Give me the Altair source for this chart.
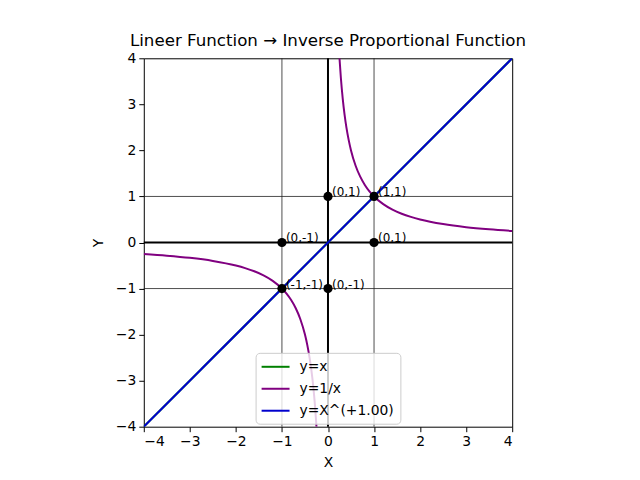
import altair as alt
import pandas as pd

# --- data ---
series_names = ["y=x", "y=1/x", "y=X^(+1.00)"]
series_colors = ["#008000", "#800080", "#0000CD"]

lin_x = [-4, 4]
lin_y = [-4, 4]

inv_pos_x = [0.25, 0.28, 0.32, 0.36, 0.4, 0.45, 0.5, 0.6, 0.7, 0.8, 0.9, 1.0, 1.2, 1.4, 1.6, 1.8, 2.0, 2.5, 3.0, 3.5, 4.0]
inv_pos_y = [4.0, 3.571, 3.125, 2.778, 2.5, 2.222, 2.0, 1.667, 1.429, 1.25, 1.111, 1.0, 0.833, 0.714, 0.625, 0.556, 0.5, 0.4, 0.333, 0.286, 0.25]
inv_neg_x = [-4.0, -3.5, -3.0, -2.5, -2.0, -1.8, -1.6, -1.4, -1.2, -1.0, -0.9, -0.8, -0.7, -0.6, -0.5, -0.45, -0.4, -0.36, -0.32, -0.28, -0.25]
inv_neg_y = [-0.25, -0.286, -0.333, -0.4, -0.5, -0.556, -0.625, -0.714, -0.833, -1.0, -1.111, -1.25, -1.429, -1.667, -2.0, -2.222, -2.5, -2.778, -3.125, -3.571, -4.0]

pt_x = [0, 1, -1, 1, -1, 0]
pt_y = [1, 1, 0, 0, -1, -1]
pt_labels = ["(0,1)", "(1,1)", "(0,-1)", "(0,1)", "(-1,-1)", "(0,-1)"]

grid_vals = [-1, 1]
zero_vals = [0]
ticks = [-4, -3, -2, -1, 0, 1, 2, 3, 4]

FONT = "DejaVu Sans"

xs = alt.Scale(domain=[-4, 4], nice=False, zero=False)
ys = alt.Scale(domain=[-4, 4], nice=False, zero=False)
cscale = alt.Scale(domain=series_names, range=series_colors)

lin_df = pd.DataFrame({"x": lin_x, "y": lin_y})
inv_df = pd.DataFrame({
    "x": inv_neg_x + inv_pos_x,
    "y": inv_neg_y + inv_pos_y,
    "branch": ["neg"] * len(inv_neg_x) + ["pos"] * len(inv_pos_x),
    "order": list(range(len(inv_neg_x))) + list(range(len(inv_pos_x))),
})
pts_df = pd.DataFrame({"x": pt_x, "y": pt_y, "label": pt_labels})
grid_df = pd.DataFrame({"v": grid_vals})
zero_df = pd.DataFrame({"v": zero_vals})

xax = alt.Axis(values=ticks, title="X", grid=False, domain=False, tickColor="black",
               tickSize=5, labelColor="black", labelFontSize=13.9, labelFont=FONT,
               titleFont=FONT, titleFontSize=13.9, titleFontWeight="normal", titleColor="black",
               labelPadding=3, titlePadding=7, format="d")
yax = alt.Axis(values=ticks, title="Y", grid=False, domain=False, tickColor="black",
               tickSize=5, labelColor="black", labelFontSize=13.9, labelFont=FONT,
               titleFont=FONT, titleFontSize=13.9, titleFontWeight="normal", titleColor="black",
               labelPadding=3, titlePadding=10, format="d")

base_x = alt.X("x:Q", scale=xs, axis=xax)
base_y = alt.Y("y:Q", scale=ys, axis=yax)

vgrid = alt.Chart(grid_df).mark_rule(color="#222222", strokeWidth=0.8).encode(x=alt.X("v:Q", scale=xs, axis=xax))
hgrid = alt.Chart(grid_df).mark_rule(color="#222222", strokeWidth=0.8).encode(y=alt.Y("v:Q", scale=ys, axis=yax))
vzero = alt.Chart(zero_df).mark_rule(color="black", strokeWidth=2).encode(x=alt.X("v:Q", scale=xs, axis=xax))
hzero = alt.Chart(zero_df).mark_rule(color="black", strokeWidth=2).encode(y=alt.Y("v:Q", scale=ys, axis=yax))

legend = alt.Legend(title=None, orient="none", legendX=112, legendY=295, symbolType="M-2,0L2,0",
                    symbolStrokeWidth=2, symbolSize=196, symbolOffset=6, labelFont=FONT, labelFontSize=13.9,
                    labelColor="black", fillColor="rgba(255,255,255,0.8)", strokeColor="#cccccc",
                    cornerRadius=4, padding=6, rowPadding=7, labelOffset=16)

lin_green = alt.Chart(lin_df).transform_calculate(s="'y=x'").mark_line(strokeWidth=2, clip=True).encode(
    x=base_x, y=base_y, color=alt.Color("s:N", scale=cscale, legend=legend))
inv_line = alt.Chart(inv_df).transform_calculate(s="'y=1/x'").mark_line(strokeWidth=2, clip=True, interpolate="monotone").encode(
    x=base_x, y=base_y, detail="branch:N", order="order:Q",
    color=alt.Color("s:N", scale=cscale, legend=legend))
lin_blue = alt.Chart(lin_df).transform_calculate(s="'y=X^(+1.00)'").mark_line(strokeWidth=2, clip=True).encode(
    x=base_x, y=base_y, color=alt.Color("s:N", scale=cscale, legend=legend))

points = alt.Chart(pts_df).mark_circle(color="black", size=85, opacity=1).encode(x=base_x, y=base_y)
texts = alt.Chart(pts_df).mark_text(align="left", baseline="bottom", dx=4, dy=3, font=FONT,
                                    fontSize=12, color="black").encode(x=base_x, y=base_y, text="label:N")

chart = alt.layer(vgrid, hgrid, vzero, hzero, lin_green, inv_line, lin_blue, points, texts).properties(
    width=369, height=369,
    title=alt.TitleParams("Lineer Function → Inverse Proportional Function", font=FONT, fontSize=16.7,
                          fontWeight="normal", color="black", offset=2),
    autosize=alt.AutoSizeParams(type="none"),
    padding={"left": 136, "top": 50, "right": 120, "bottom": 45},
    background="white",
).configure_view(stroke="black", strokeWidth=1)

chart.save("out.html", embed_options={"renderer": "svg", "actions": False})
